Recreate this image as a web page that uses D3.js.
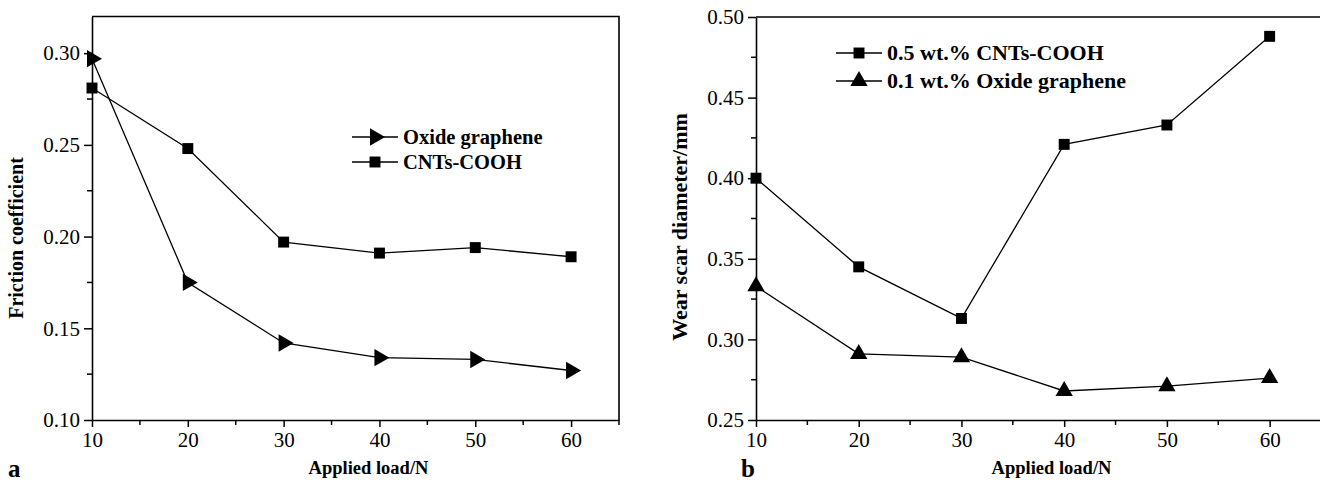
<!DOCTYPE html>
<html lang="en">
<head>
<meta charset="utf-8">
<title>Friction and wear</title>
<script src="https://cdn.jsdelivr.net/npm/d3@7"></script>
<style>
  body { margin: 0; background: #fff; }
  svg text { font-family: "Liberation Serif", "Times New Roman", serif; fill: #000; }
  .tick text { font-size: 21px; }
  .xttl { font-size: 18.5px; font-weight: bold; }
  .yttl { font-weight: bold; }
  .lab { font-size: 25px; font-weight: bold; }
</style>
</head>
<body>
<svg id="chart" width="1320" height="482"></svg>
<script>
// data
var loads = [10, 20, 30, 40, 50, 60];
var loadTicks = [10, 20, 30, 40, 50, 60];

var frictionOxide = [0.297, 0.175, 0.142, 0.134, 0.133, 0.127];
var frictionCnt = [0.281, 0.248, 0.197, 0.191, 0.194, 0.189];
var frictionTicks = [0.10, 0.15, 0.20, 0.25, 0.30];

var wearCnt = [0.400, 0.345, 0.313, 0.421, 0.433, 0.488];
var wearOxide = [0.333, 0.291, 0.289, 0.268, 0.271, 0.276];
var wearTicks = [0.25, 0.30, 0.35, 0.40, 0.45, 0.50];

var svg = d3.select("#chart");

var sym = {
  square: d3.symbol().type(d3.symbolSquare).size(120),
  up: d3.symbol().type(d3.symbolTriangle).size(130)
};

function drawPanel(p) {
  var x = d3.scaleLinear().domain([10, 65]).range([p.x0, p.x1]);
  var y = d3.scaleLinear().domain(p.yDomain).range([420, p.yTop]);
  var g = svg.append("g");

  // minor ticks
  var xMinor = d3.range(15, 66, 10);
  g.selectAll(".xm").data(xMinor).enter().append("line")
    .attr("x1", function (d) { return x(d); }).attr("x2", function (d) { return x(d); })
    .attr("y1", 420).attr("y2", 425).attr("stroke", "#000").attr("stroke-width", 1.5);
  var yMinor = p.ticks.slice(0, -1).map(function (d) { return d + 0.025; })
    .filter(function (d) { return d < p.yDomain[1]; });
  g.selectAll(".ym").data(yMinor).enter().append("line")
    .attr("x1", p.x0 - 5).attr("x2", p.x0)
    .attr("y1", function (d) { return y(d); }).attr("y2", function (d) { return y(d); })
    .attr("stroke", "#000").attr("stroke-width", 1.5);

  // frame: top and right
  g.append("path")
    .attr("d", "M" + p.x0 + "," + p.yTop + "H" + p.x1 + "V420")
    .attr("fill", "none").attr("stroke", "#000").attr("stroke-width", 1.6);

  var xa = g.append("g").attr("transform", "translate(0,420)")
    .call(d3.axisBottom(x).tickValues(loadTicks).tickSize(7).tickPadding(5).tickSizeOuter(0));
  var ya = g.append("g").attr("transform", "translate(" + p.x0 + ",0)")
    .call(d3.axisLeft(y).tickValues(p.ticks).tickFormat(d3.format(".2f")).tickSize(8).tickPadding(4).tickSizeOuter(0));
  [xa, ya].forEach(function (a) {
    a.select(".domain").attr("stroke-width", 1.6);
    a.selectAll(".tick line").attr("stroke-width", 1.5);
  });

  var line = d3.line().x(function (d, i) { return x(loads[i]); }).y(function (d) { return y(d); });

  p.series.forEach(function (s) {
    g.append("path").datum(s.values).attr("d", line)
      .attr("fill", "none").attr("stroke", "#000").attr("stroke-width", 1.3);
    g.selectAll(null).data(s.values).enter().append("path")
      .attr("d", sym[s.shape === "right" ? "up" : s.shape])
      .attr("transform", function (d, i) {
        return "translate(" + x(loads[i]) + "," + y(d) + ")" + (s.shape === "right" ? " rotate(90)" : "");
      })
      .attr("fill", "#000");
  });

  // legend
  p.series.forEach(function (s, i) {
    var ly = p.legY + i * p.legGap;
    g.append("line").attr("x1", p.legX).attr("x2", p.legX + 46)
      .attr("y1", ly).attr("y2", ly).attr("stroke", "#000").attr("stroke-width", 1.3);
    g.append("path").attr("d", sym[s.shape === "right" ? "up" : s.shape])
      .attr("transform", "translate(" + (p.legX + 23) + "," + ly + ")" + (s.shape === "right" ? " rotate(90)" : ""))
      .attr("fill", "#000");
    g.append("text").attr("x", p.legX + 51).attr("y", ly + 7)
      .style("font-size", p.legSize + "px").style("font-weight", "bold").text(s.name);
  });

  g.append("text").attr("class", "xttl")
    .attr("x", (p.x0 + p.x1) / 2 + 13).attr("y", 474).attr("text-anchor", "middle").text("Applied load/N");
  g.append("text").attr("class", "yttl").style("font-size", p.yTitleSize + "px")
    .attr("transform", "translate(" + p.yTitleX + "," + p.yTitleY + ") rotate(-90)")
    .attr("text-anchor", "middle").text(p.yTitle);
  g.append("text").attr("class", "lab").attr("x", p.labX).attr("y", 477).text(p.label);
}

drawPanel({
  x0: 92, x1: 619, yTop: 16.5, yDomain: [0.10, 0.32], ticks: frictionTicks,
  yTitle: "Friction coefficient", yTitleX: 23, yTitleY: 238, yTitleSize: 20,
  label: "a", labX: 8,
  legX: 352, legY: 137, legGap: 25, legSize: 20.5,
  series: [
    { name: "Oxide graphene", values: frictionOxide, shape: "right" },
    { name: "CNTs-COOH", values: frictionCnt, shape: "square" }
  ]
});

drawPanel({
  x0: 756, x1: 1321, yTop: 17, yDomain: [0.25, 0.50], ticks: wearTicks,
  yTitle: "Wear scar diameter/mm", yTitleX: 687, yTitleY: 227, yTitleSize: 22,
  label: "b", labX: 741,
  legX: 836, legY: 53, legGap: 28, legSize: 22,
  series: [
    { name: "0.5 wt.% CNTs-COOH", values: wearCnt, shape: "square" },
    { name: "0.1 wt.% Oxide graphene", values: wearOxide, shape: "up" }
  ]
});
</script>
</body>
</html>
